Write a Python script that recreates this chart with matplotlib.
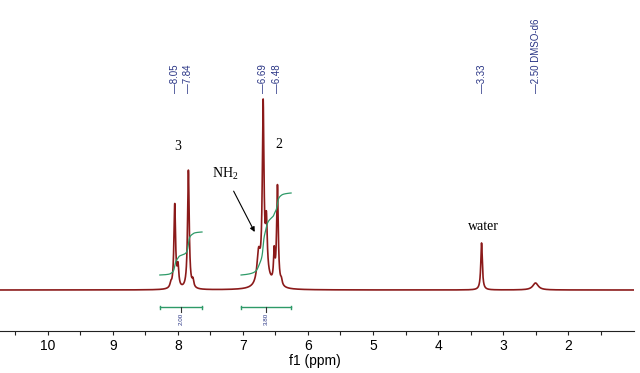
import numpy as np
import matplotlib.pyplot as plt

plt.rcParams["mathtext.fontset"] = "custom"
plt.rcParams["mathtext.rm"] = "Liberation Serif"

# peak list: shift (ppm), height, half width (ppm)
shifts = [8.11, 8.05, 8.00, 7.84, 7.77, 6.76, 6.69, 6.64, 6.52, 6.47, 6.41, 6.65, 3.33, 2.50]
heights = [4, 84, 20, 119, 7, 30, 172, 50, 30, 100, 5, 12, 47, 7]
widths = [0.015, 0.015, 0.015, 0.015, 0.015, 0.03, 0.015, 0.015, 0.012, 0.015, 0.015, 0.08, 0.014, 0.05]

peak_labels = ["8.05", "7.84", "6.69", "6.48", "3.33", "2.50 DMSO-d6"]
peak_label_x = [8.05, 7.84, 6.69, 6.48, 3.33, 2.50]

# integral regions: (start, end) ppm, value, curve start/end heights
int_regions = [(8.28, 7.63), (7.03, 6.26)]
int_values = ["2.00", "3.80"]
int_curve_lo = [15, 15]
int_curve_hi = [58, 97]

ppm = np.linspace(10.75, 0.98, 8000)
spec = np.zeros_like(ppm)
for s, h, w in zip(shifts, heights, widths):
    spec += h / (1 + ((ppm - s) / w) ** 2)

fig = plt.figure(figsize=(6.4, 3.73), dpi=100)
ax = fig.add_axes([0, 42 / 373, 634 / 640, 331 / 373])
ax.plot(ppm, spec, color="#8b1a1a", lw=1.2)

green = "#2e9a68"
navy = "#2a3585"
for (a, b), val, lo, hi in zip(int_regions, int_values, int_curve_lo, int_curve_hi):
    m = (ppm <= a) & (ppm >= b)
    c = np.cumsum(spec[m])
    c = lo + (c - c[0]) / (c[-1] - c[0]) * (hi - lo)
    ax.plot(ppm[m], c, color=green, lw=0.9)
    ax.plot([a, b], [-17, -17], color=green, lw=1.0)
    ax.plot([a, a], [-15.5, -18.5], color=green, lw=1.0)
    ax.plot([b, b], [-15.5, -18.5], color=green, lw=1.0)
    mid = (a + b) / 2
    ax.plot([mid, mid], [-17, -22], color="#333333", lw=0.8)
    ax.text(mid, -23, val, rotation=90, ha="center", va="top", fontsize=4.5,
            color=navy, family="Liberation Sans")

for x, t in zip(peak_label_x, peak_labels):
    ax.text(x, 197, "\u2014" + t, rotation=90, ha="center", va="bottom",
            fontsize=7, color=navy, family="Liberation Sans")

serif = "Liberation Serif"
ax.text(8.0, 143, "3", fontsize=10, family=serif, ha="center", va="center")
ax.text(6.45, 145, "2", fontsize=10, family=serif, ha="center", va="center")
ax.text(3.30, 63, "water", fontsize=10, family=serif, ha="center", va="center")
ax.annotate("NH$_\\mathrm{2}$", xy=(6.82, 58), xytext=(7.28, 116), fontsize=10, family=serif,
            ha="center", va="center",
            arrowprops=dict(arrowstyle="-|>", color="black", lw=0.8, mutation_scale=7,
                            shrinkA=5, shrinkB=0))

ax.set_xlim(10.738, 0.985)
ax.set_ylim(-41, 290)
ax.set_xticks(range(2, 11))
ax.set_xticks(np.arange(1.5, 10.6, 1.0), minor=True)
ax.set_yticks([])
for s in ["left", "right", "top"]:
    ax.spines[s].set_visible(False)
ax.spines["bottom"].set_color("#222222")
ax.tick_params(axis="x", which="both", direction="out", length=3, width=0.8, color="#222222")
ax.tick_params(axis="x", labelsize=10, pad=3)
for lab in ax.get_xticklabels():
    lab.set_family("Liberation Sans")
ax.text(5.9, -71, "f1 (ppm)", fontsize=10, family="Liberation Sans", ha="center", va="center")
ax.patch.set_alpha(0)

fig.savefig("out.png", dpi=100)
